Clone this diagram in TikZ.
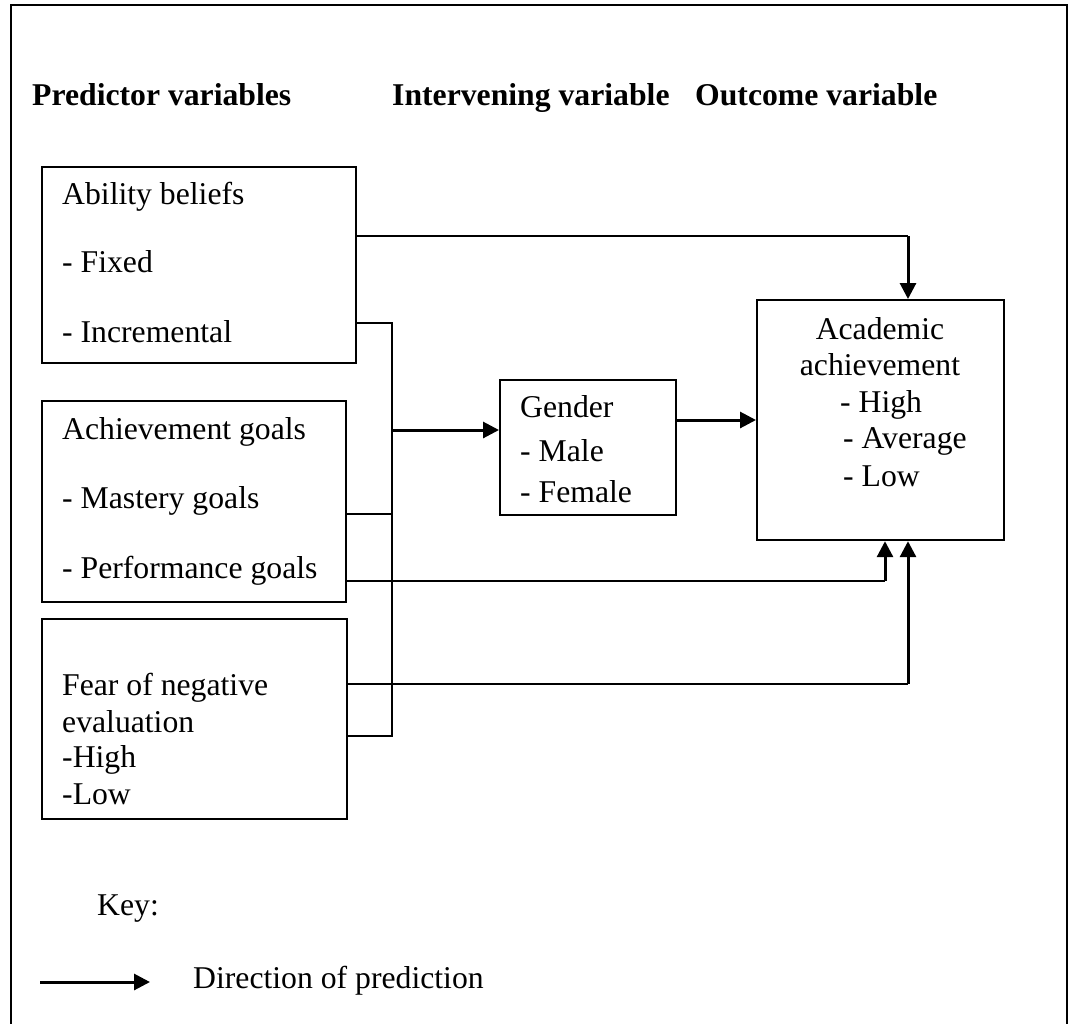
\documentclass[tikz,border=0pt]{standalone}
\usepackage{fontspec}
\setmainfont{Liberation Serif}
\usetikzlibrary{arrows.meta}
\begin{document}
\begin{tikzpicture}[x=1pt,y=-1pt,
  box/.style={draw,line width=2.2pt,rectangle,inner sep=0pt,anchor=north west},
  txt/.style={inner sep=0pt,anchor=base west,font=\fontsize{31.7}{36}\selectfont},
  hdr/.style={inner sep=0pt,anchor=base west,font=\fontsize{31.7}{36}\selectfont\bfseries},
  conn/.style={line width=2.2pt},
  arr/.style={line width=3pt,-{Triangle[length=16pt,width=16pt]}}]
\useasboundingbox (0,0) rectangle (1071,1023);
% frame (bottom edge lies beyond the picture)
\draw[line width=2.2pt] (11,1040) -- (11,5) -- (1067,5) -- (1067,1040);
% headers
\node[hdr] (h1) at (32,105) {Predictor variables};
\node[hdr] (h2) at (392,105) {Intervening variable};
\node[hdr] (h3) at (695,105) {Outcome variable};
% boxes
\node[box,minimum width=314pt,minimum height=196pt] (ab) at (41,166) {};
\node[box,minimum width=304pt,minimum height=201pt] (ag) at (41,400) {};
\node[box,minimum width=305pt,minimum height=200pt] (fe) at (41,618) {};
\node[box,minimum width=176pt,minimum height=135pt] (ge) at (499,379) {};
\node[box,minimum width=247pt,minimum height=240pt] (ac) at (756,299) {};
% box texts
\node[txt] (t1) at (62,204) {Ability beliefs};
\node[txt] (t2) at (62,272) {- Fixed};
\node[txt] (t3) at (62,342) {- Incremental};
\node[txt] (t4) at (62,439) {Achievement goals};
\node[txt] (t5) at (62,508) {- Mastery goals};
\node[txt] (t6) at (62,578) {- Performance goals};
\node[txt] (t7) at (62,695) {Fear of negative};
\node[txt] (t8) at (62,732) {evaluation};
\node[txt] (t9) at (62,767) {-High};
\node[txt] (t10) at (62,804) {-Low};
\node[txt] (g1) at (520,417) {Gender};
\node[txt] (g2) at (520,461) {- Male};
\node[txt] (g3) at (520,502) {- Female};
\node[txt,anchor=base] (a1) at (880,339) {Academic};
\node[txt,anchor=base] (a2) at (880,375) {achievement};
\node[txt] (a3) at (840,412) {- High};
\node[txt] (a4) at (843,448) {- Average};
\node[txt] (a5) at (843,486) {- Low};
% junction coordinates
\coordinate (trunkTop) at (392,323);
\coordinate (trunkBot) at (392,736);
\coordinate (trunkMid) at (392,430);
\coordinate (topTurn) at (908,236);
\coordinate (perfTurn) at (885,581);
\coordinate (fearTurn) at (908,684);
% connectors
\draw[conn] (ab.east |- topTurn) -- (topTurn);
\draw[arr] (topTurn) -- (ac.north -| topTurn);
\draw[conn] (ab.east |- trunkTop) -- (trunkTop) -- (trunkBot) -- (fe.east |- trunkBot);
\draw[conn] (ag.east |- 0,514) -- (392,514);
\draw[arr] (trunkMid) -- (ge.west |- trunkMid);
\draw[arr] (ge.east |- 0,420) -- (ac.west |- 0,420);
\draw[conn] (ag.east |- perfTurn) -- (perfTurn);
\draw[arr] (perfTurn) -- (ac.south -| perfTurn);
\draw[conn] (fe.east |- fearTurn) -- (fearTurn);
\draw[arr] (fearTurn) -- (ac.south -| fearTurn);
% key
\node[txt] (key) at (97,915) {Key:};
\coordinate (keyStart) at (40,982);
\node[txt] (dir) at (193,988) {Direction of prediction};
\draw[arr] (keyStart) -- (150,982);
\end{tikzpicture}
\end{document}
